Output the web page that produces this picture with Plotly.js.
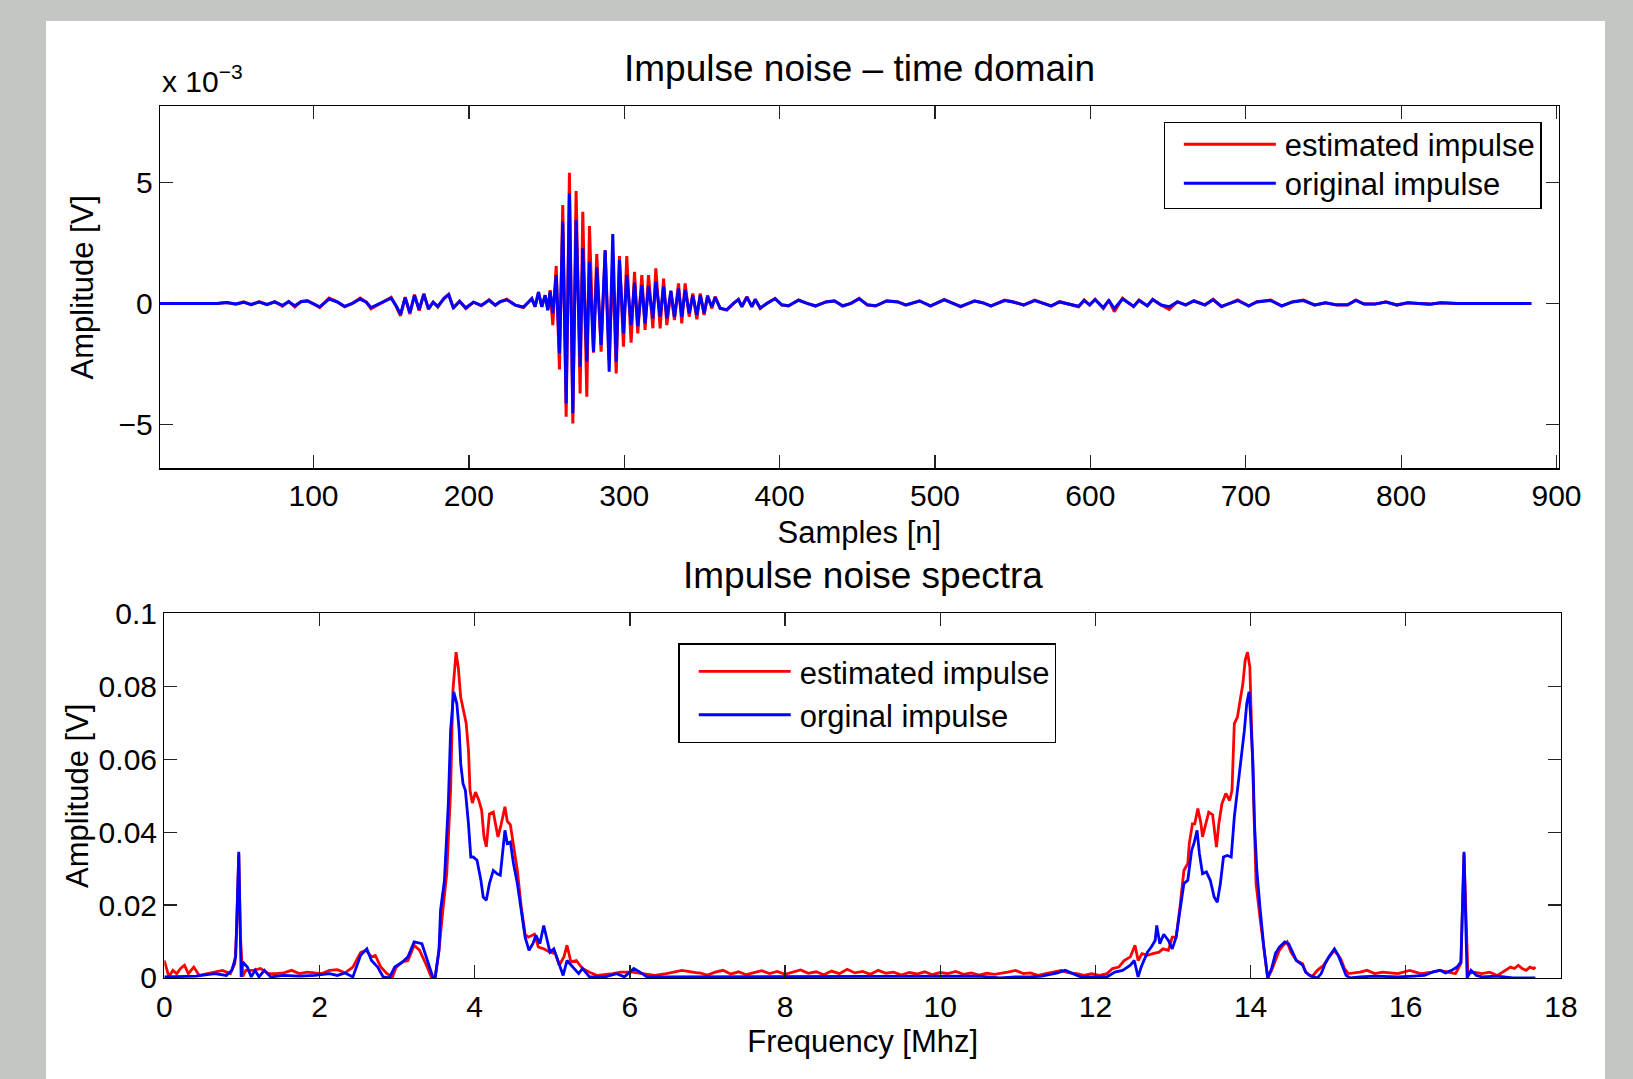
<!DOCTYPE html>
<html><head><meta charset="utf-8">
<script src="https://cdn.plot.ly/plotly-3.0.1.min.js"></script>
<style>
html,body{margin:0;padding:0;background:#c4c6c4;width:1633px;height:1079px;overflow:hidden}
#plot{position:absolute;left:46px;top:21px;width:1559px;height:1058px;background:#fff}
</style>
</head><body><div id="plot"></div>
<script>
// ---------- Time domain (values in x10^-3 V) ----------
var timeSamples = [1,28,33,38,44,50,55,60,65,70,75,80,84,88,92,96,100,104,110,115,120,125,130,134,137,141,146,150,153,156,159,162,165,168,171,174,177,180,184,187,190,194,198,203,208,213,217,
220.1,224.4,229.8,235.1,240.5,242.6,244.8,246.9,249.1,250.8,252.3,254,256.2,258.3,260.4,262.6,264.7,266.9,269,271.6,273.3,275.9,277.6,280.2,282.3,285.1,287.7,290.3,292.6,294.8,296.9,299.5,301.6,304.4,306.6,308.7,311.3,313.4,315.6,318.4,320.3,323.1,325.3,327.4,330,332.3,334.9,337,339.2,341.8,344.1,346.7,348.9,351.4,353.6,356.4,358.5,361.7,366,370.3,373.5,375.7,378.9,382.1,384.3,387.5,391.8,397.1,401.4,405.7,408.9,412.2,
417.7,423,430,435.3,440.6,445.9,451.2,456.5,461.8,468.9,475.9,481.2,490,497.1,505.9,511.2,516.5,525.4,530.6,536,544.8,550.1,557.1,564.2,569.5,574.8,580.1,585.4,592.4,596,599.5,603,608.3,611.9,615.4,620.7,627.8,631.3,636.6,640.1,645.4,650.7,656,661.3,666.6,673.7,679,684.3,689.5,694.8,701.9,707.2,716,723.1,730.2,737.2,744.3,751.3,758.4,765.5,770.8,776.1,783.1,790.2,797.2,804.3,811.4,818.4,825.5,836.1,883.8];

var timeEstimated = [0,0,0.03,0,0.04,-0.03,0.06,-0.06,0.07,-0.05,0.07,-0.12,0.08,-0.15,0.08,0.12,-0.02,-0.17,0.22,0.08,-0.14,0,0.22,0.05,-0.22,-0.08,0.1,0.25,-0.1,-0.52,0.26,-0.44,0.36,-0.3,0.4,-0.25,0.05,-0.15,0.22,0.38,-0.2,0.1,-0.22,0.05,-0.1,0.15,-0.08,
0.07,0.17,-0.07,-0.17,0.2,-0.14,0.48,-0.14,0.34,-0.28,0.55,-0.9,1.55,-2.73,4.07,-4.69,5.41,-4.97,4.65,-3.73,3.79,-3.86,3.2,-2.04,2.04,-2.0,2.2,-2.35,1.79,-2.9,1.96,-1.79,1.96,-1.63,1.31,-1.24,1.17,-1.1,1.17,-1.03,1.45,-1.03,1.03,-0.9,0.48,-0.69,0.83,-0.83,0.83,-0.55,0.41,-0.66,0.41,-0.48,0.34,-0.21,0.28,-0.21,-0.28,0,0.17,-0.14,0.28,-0.14,0.17,-0.21,0,0.21,-0.07,-0.11,0.03,0.14,
0,-0.11,0.07,0.11,-0.11,0,0.21,-0.07,-0.11,0.11,0.07,-0.07,0.11,-0.11,0.17,0,-0.14,0.11,0.03,-0.11,0.14,0.07,-0.07,0.14,0,-0.11,0.07,-0.03,-0.14,0.14,-0.07,0.17,-0.21,0.14,-0.34,0.21,-0.14,0.14,-0.11,0.17,-0.07,-0.25,0.07,-0.07,0.11,-0.07,0.17,-0.14,0,0.14,-0.11,0.07,0.14,-0.11,0.07,0.14,-0.07,0.03,-0.07,-0.07,0.14,-0.03,-0.03,0.07,-0.07,0.03,0,-0.03,0.03,0,0];

var timeOriginal = [0,0,0.03,0,0.04,-0.02,0.05,-0.04,0.06,-0.04,0.06,-0.08,0.07,-0.1,0.07,0.1,-0.02,-0.14,0.18,0.07,-0.12,0,0.18,0.05,-0.17,-0.06,0.08,0.22,-0.08,-0.45,0.24,-0.38,0.33,-0.26,0.38,-0.22,0.05,-0.12,0.2,0.36,-0.18,0.08,-0.18,0.05,-0.08,0.13,-0.07,
0.07,0.15,-0.07,-0.15,0.2,-0.14,0.46,-0.14,0.34,-0.28,0.5,-0.41,1.17,-2.07,3.38,-4.14,4.55,-4.55,3.45,-2.62,2.28,-2.41,1.72,-2.0,1.49,-1.72,2.2,-2.83,2.87,-2.41,1.79,-1.24,1.17,-0.9,0.86,-0.94,0.76,-0.83,0.72,-0.62,0.9,-0.55,0.69,-0.62,0.52,-0.55,0.62,-0.55,0.55,-0.41,0.34,-0.48,0.34,-0.41,0.28,-0.14,0.25,-0.2,-0.26,0,0.16,-0.13,0.26,-0.13,0.16,-0.19,0,0.19,-0.06,-0.1,0.03,0.13,
0,-0.1,0.06,0.1,-0.1,0,0.19,-0.06,-0.1,0.1,0.06,-0.06,0.1,-0.1,0.15,0,-0.12,0.1,0.03,-0.1,0.12,0.06,-0.06,0.12,0,-0.1,0.06,-0.03,-0.12,0.12,-0.06,0.15,-0.17,0.12,-0.21,0.18,-0.12,0.12,-0.1,0.15,-0.06,-0.14,0.06,-0.06,0.1,-0.06,0.15,-0.12,0,0.12,-0.1,0.06,0.12,-0.1,0.06,0.12,-0.06,0.03,-0.06,-0.06,0.12,-0.03,-0.03,0.06,-0.06,0.03,0,-0.03,0.03,0,0];

// ---------- Spectra ----------
var freqEstimated = [0,0.06,0.11,0.16,0.21,0.26,0.31,0.38,0.45,0.55,0.65,0.75,0.85,0.91,0.93,0.96,0.98,1.01,1.05,1.15,1.24,1.34,1.44,1.54,1.64,1.74,1.84,1.94,2.03,2.13,2.23,2.33,2.43,2.53,2.60,2.67,2.72,2.79,2.87,2.94,2.99,3.07,3.14,3.22,3.29,3.37,3.44,3.49,3.54,3.59,3.64,3.69,3.72,3.76,3.79,3.82,3.86,3.89,3.92,3.94,3.97,4.01,4.05,4.09,4.12,4.15,4.19,4.24,4.30,4.34,4.39,4.42,4.46,4.50,4.55,4.60,4.65,4.69,4.77,4.82,4.89,4.97,5.04,5.09,5.15,5.19,5.24,5.31,5.39,5.48,5.58,5.78,5.88,6.03,6.17,6.32,6.47,6.67,6.87,
6.9,7.0,7.1,7.2,7.3,7.4,7.5,7.6,7.7,7.8,7.9,8.0,8.1,8.2,8.3,8.4,8.5,8.6,8.7,8.8,8.9,9.0,9.1,9.2,9.3,9.4,9.5,9.6,9.7,9.8,9.9,10.0,10.1,10.2,10.3,10.4,10.5,10.6,10.7,
10.77,10.87,10.97,11.07,11.16,11.26,11.36,11.46,11.56,11.66,11.76,11.85,11.95,12.05,12.15,12.22,12.30,12.37,12.45,12.51,12.55,12.60,12.67,12.74,12.82,12.87,12.94,12.99,13.04,13.09,13.14,13.19,13.21,13.25,13.28,13.32,13.36,13.38,13.42,13.46,13.51,13.56,13.59,13.63,13.68,13.73,13.76,13.79,13.83,13.87,13.90,13.93,13.96,13.99,14.01,14.04,14.07,14.12,14.17,14.22,14.27,14.32,14.37,14.42,14.47,14.52,14.59,14.67,14.71,14.79,14.86,14.94,15.01,15.08,15.16,15.21,15.26,15.41,15.50,15.60,15.70,15.90,16.05,16.19,16.34,16.44,16.54,16.64,16.71,16.75,16.80,16.88,16.98,17.08,17.18,17.28,17.35,17.40,17.45,17.50,17.55,17.60,17.65,17.67];
var ampEstimated = [0.0048,0.0003,0.0021,0.0012,0.0026,0.0035,0.0012,0.003,0.0007,0.0012,0.0016,0.0021,0.0012,0.004,0.012,0.034,0.012,0.0004,0.0021,0.0021,0.0026,0.0012,0.0012,0.0014,0.0021,0.0012,0.0016,0.0014,0.0012,0.0021,0.0023,0.0014,0.003,0.007,0.0076,0.0058,0.0062,0.003,0.0012,0.0003,0.003,0.0044,0.0048,0.009,0.0076,0.0039,0.0003,0,0.0076,0.0186,0.0286,0.0515,0.079,0.0894,0.085,0.077,0.0725,0.07,0.0625,0.0515,0.048,0.051,0.049,0.046,0.0387,0.036,0.045,0.0455,0.0387,0.042,0.047,0.043,0.042,0.0369,0.0295,0.0195,0.012,0.0112,0.012,0.0085,0.008,0.0071,0.0067,0.0035,0.0058,0.009,0.0044,0.0048,0.0026,0.0016,0.0007,0.0012,0.0016,0.0016,0.0012,0.0007,0.0012,0.0021,0.0014,
0.0014,0.0008,0.0016,0.0021,0.0011,0.0017,0.0009,0.0015,0.002,0.0012,0.0018,0.001,0.0016,0.0022,0.0013,0.0017,0.0009,0.0019,0.0012,0.0024,0.0014,0.0018,0.001,0.0021,0.0013,0.0016,0.0008,0.0015,0.0011,0.0017,0.0009,0.0015,0.0012,0.0018,0.001,0.0014,0.0008,0.0013,0.001,
0.0012,0.0016,0.0021,0.0012,0.0014,0.0007,0.0012,0.0016,0.0021,0.0014,0.0012,0.0007,0.0012,0.0007,0.0012,0.0026,0.003,0.0048,0.0058,0.009,0.0048,0.0067,0.0062,0.0067,0.0071,0.008,0.0076,0.0112,0.0112,0.0195,0.0295,0.0314,0.0369,0.0423,0.0423,0.0465,0.0423,0.0387,0.0423,0.0455,0.0448,0.0359,0.0423,0.0478,0.0506,0.0487,0.0515,0.0698,0.0716,0.0771,0.0807,0.0872,0.0894,0.0853,0.0698,0.0423,0.0259,0.0167,0.0076,0,0.0021,0.0048,0.0076,0.009,0.0099,0.0071,0.0048,0.0039,0.0016,0.0003,0.0021,0.0035,0.0058,0.0076,0.0053,0.0026,0.0012,0.0016,0.0021,0.0012,0.0016,0.0012,0.0021,0.0012,0.0016,0.0021,0.0016,0.0012,0.004,0.0341,0.0012,0.0016,0.0012,0.0016,0.0007,0.0021,0.003,0.0026,0.0035,0.0026,0.0021,0.003,0.0026,0.003];

var freqOriginal = [0,0.16,0.41,0.65,0.80,0.87,0.92,0.96,0.99,1.01,1.07,1.12,1.17,1.22,1.29,1.37,1.54,1.74,1.94,2.13,2.23,2.33,2.43,2.53,2.61,2.67,2.75,2.82,2.90,2.97,3.07,3.14,3.22,3.32,3.39,3.46,3.49,3.54,3.56,3.61,3.66,3.69,3.73,3.77,3.80,3.82,3.85,3.88,3.92,3.95,3.98,4.03,4.08,4.11,4.15,4.19,4.24,4.29,4.33,4.36,4.39,4.42,4.46,4.50,4.55,4.60,4.65,4.70,4.75,4.79,4.84,4.89,4.93,4.97,5.02,5.07,5.14,5.19,5.26,5.34,5.39,5.48,5.68,5.83,5.93,6.05,6.13,6.22,6.37,6.57,6.87,
7.5,8.0,8.5,9.0,9.5,10.0,10.5,
10.77,10.97,11.16,11.31,11.51,11.61,11.71,11.81,11.95,12.15,12.25,12.35,12.45,12.50,12.55,12.59,12.67,12.72,12.77,12.79,12.83,12.88,12.94,12.99,13.04,13.09,13.14,13.19,13.24,13.27,13.31,13.34,13.38,13.43,13.48,13.53,13.57,13.61,13.65,13.70,13.75,13.79,13.83,13.88,13.92,13.95,13.98,14.00,14.03,14.05,14.08,14.12,14.17,14.22,14.27,14.32,14.37,14.44,14.49,14.54,14.59,14.67,14.71,14.76,14.86,14.91,14.96,15.01,15.08,15.13,15.18,15.23,15.28,15.41,15.60,15.90,16.10,16.24,16.34,16.44,16.51,16.59,16.66,16.71,16.75,16.79,16.84,16.91,16.98,17.18,17.38,17.67];
var ampOriginal = [0.0003,0.0003,0.0005,0.0012,0.0007,0.0021,0.0058,0.0346,0.0003,0.0044,0.003,0.0003,0.0021,0.0003,0.0021,0.0003,0.0007,0.0005,0.0007,0.0012,0.0007,0.0014,0.0003,0.0062,0.008,0.0048,0.003,0.0003,0,0.003,0.0044,0.0058,0.0099,0.0094,0.0048,0.0003,0,0.0076,0.0186,0.0268,0.0478,0.068,0.0785,0.0753,0.068,0.0588,0.0533,0.0515,0.0423,0.0332,0.0332,0.0323,0.0268,0.0222,0.0213,0.0259,0.0295,0.0286,0.0282,0.0341,0.0405,0.0369,0.0373,0.0314,0.0259,0.0186,0.0112,0.0076,0.0094,0.0117,0.0094,0.0144,0.0103,0.0071,0.008,0.0048,0.0007,0.0048,0.003,0.0012,0.0026,0.0003,0.0003,0.0012,0.0003,0.0026,0.0016,0.0003,0.0003,0.0003,0.0003,
0.0005,0.0003,0.0005,0.0003,0.0004,0.0003,0.0005,
0,0.0003,0.0003,0.0005,0.0014,0.0021,0.0012,0.0003,0.0003,0.0003,0.0016,0.0021,0.0035,0.0048,0.0003,0.003,0.0071,0.0085,0.0103,0.0144,0.0094,0.012,0.0103,0.008,0.0112,0.0186,0.0259,0.0268,0.035,0.0369,0.0405,0.0341,0.0286,0.0291,0.0268,0.0222,0.0208,0.0259,0.0332,0.0336,0.0332,0.0442,0.0515,0.0597,0.068,0.0753,0.0785,0.0716,0.0588,0.0423,0.0295,0.0195,0.0085,0,0.0026,0.0067,0.0085,0.0099,0.0094,0.0071,0.0048,0.0035,0.0016,0.0007,0,0.0012,0.0039,0.0058,0.008,0.0062,0.0035,0.0007,0,0.0003,0.0005,0.0003,0.0005,0.0007,0.0016,0.0021,0.0014,0.0021,0.003,0.0044,0.0346,0,0.0021,0.0007,0.0003,0.0005,0,0];

var topTicks = [100,200,300,400,500,600,700,800,900];
var topYTicks = [-5,0,5];
var botXTicks = [0,2,4,6,8,10,12,14,16,18];
var botYTicks = [0,0.02,0.04,0.06,0.08,0.1];

var FONT = 'Liberation Sans, Arial, Helvetica, sans-serif';
var RED = '#ff0000', BLUE = '#0000ff';

var traces = [
  {x: timeSamples, y: timeEstimated, type:'scatter', mode:'lines', name:'estimated impulse', line:{color:RED, width:3}, xaxis:'x', yaxis:'y', legend:'legend'},
  {x: timeSamples, y: timeOriginal, type:'scatter', mode:'lines', name:'original impulse', line:{color:BLUE, width:3}, xaxis:'x', yaxis:'y', legend:'legend'},
  {x: freqEstimated, y: ampEstimated, type:'scatter', mode:'lines', name:'estimated impulse', line:{color:RED, width:2.8}, xaxis:'x2', yaxis:'y2', legend:'legend2'},
  {x: freqOriginal, y: ampOriginal, type:'scatter', mode:'lines', name:'orginal impulse', line:{color:BLUE, width:2.8}, xaxis:'x2', yaxis:'y2', legend:'legend2'}
];

function ax(extra){
  var a = {showline:true, linecolor:'#000', linewidth:1.3, mirror:'ticks', ticks:'inside', ticklen:13, tickwidth:1.3, tickcolor:'#222',
    showgrid:false, zeroline:false, tickfont:{family:FONT, size:30, color:'#000'}, automargin:false, fixedrange:true};
  for (var k in extra) a[k] = extra[k];
  return a;
}
var TITLEFONT = {family:FONT, size:31, color:'#000'};
var legendBase = {bgcolor:'#fff', bordercolor:'#000', borderwidth:1.3, font:{family:FONT, size:31, color:'#000'}, xanchor:'left', yanchor:'top', itemwidth:110, tracegroupgap:0};

var layout = {
  width:1559, height:1058,
  margin:{l:114, r:44.4, t:85, b:101.3, pad:0},
  paper_bgcolor:'#fff', plot_bgcolor:'#fff',
  font:{family:FONT, size:30, color:'#000'},
  showlegend:true,
  xaxis: ax({domain:[0,0.99836], range:[1.2,901.4], tickvals:topTicks, ticklabelstandoff:0,
    title:{text:'Samples [n]', font:TITLEFONT, standoff:10}, anchor:'y'}),
  yaxis: ax({domain:[0.58438,1], range:[-6.83,8.17], tickvals:topYTicks, ticklabelstandoff:1.5,
    title:{text:'Amplitude [V]', font:TITLEFONT, standoff:15}, anchor:'x'}),
  xaxis2: ax({domain:[0.00307,1], range:[0,18], tickvals:botXTicks, ticklabelstandoff:2,
    title:{text:'Frequency [Mhz]', font:TITLEFONT, standoff:8}, anchor:'y2'}),
  yaxis2: ax({domain:[0,0.41803], range:[0,0.1], tickvals:botYTicks, ticklabelstandoff:0,
    title:{text:'Amplitude [V]', font:TITLEFONT, standoff:0}, anchor:'x2'}),
  legend: Object.assign({}, legendBase, {x:0.7163, y:0.98176}),
  legend2: Object.assign({}, legendBase, {x:0.37005, y:0.38362}),
  annotations:[
    {text:'Impulse noise – time domain', xref:'x domain', yref:'y domain', x:0.5, y:1, xanchor:'center', yanchor:'middle', yshift:38, showarrow:false, font:{family:FONT,size:37,color:'#000'}},
    {text:'Impulse noise spectra', xref:'x2 domain', yref:'y2 domain', x:0.5, y:1, xanchor:'center', yanchor:'middle', yshift:38, showarrow:false, font:{family:FONT,size:37,color:'#000'}},
    {text:'x 10<sup>−3</sup>', xref:'x domain', yref:'y domain', x:0, y:1, xanchor:'left', yanchor:'bottom', yshift:6, showarrow:false, font:{family:FONT,size:30,color:'#000'}}
  ]
};

var el = document.getElementById('plot');
Plotly.newPlot(el, traces, layout, {staticPlot:true, displayModeBar:false}).then(function(){
  try {
    el.querySelectorAll('.legendlines path').forEach(function(p){ p.setAttribute('d','M19,0h92'); });
    // tighten the row spacing of the upper legend
    var items = Array.prototype.slice.call(el.querySelectorAll('g.traces'));
    var topItem = items.filter(function(g){ return g.textContent.indexOf('original impulse') >= 0; })[0];
    var root = topItem;
    while (root && !(root.querySelector && root.querySelector(':scope > rect.bg'))) root = root.parentNode;
    if (root) {
      var its = root.querySelectorAll('g.traces');
      var shifts = [-5.5, -10];
      Array.prototype.forEach.call(its, function(g, i){
        var t = g.getAttribute('transform') || '';
        var m = /translate\(\s*([-\d.e]+)[ ,]+([-\d.e]+)\s*\)/.exec(t);
        if (m) g.setAttribute('transform', 'translate(' + m[1] + ',' + (parseFloat(m[2]) + (shifts[i] || 0)) + ')');
      });
      var bg = root.querySelector(':scope > rect.bg');
      if (bg) bg.setAttribute('height', 85.8);
    }
  } catch (e) {}
});
</script></body></html>
